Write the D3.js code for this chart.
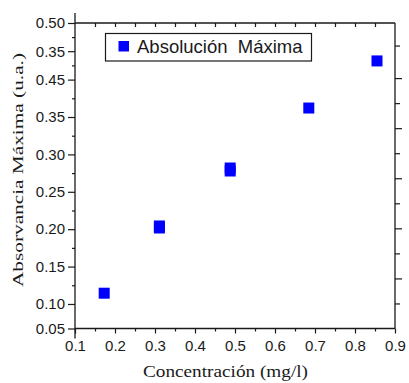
<!DOCTYPE html>
<html>
<head>
<meta charset="utf-8">
<script src="https://cdn.jsdelivr.net/npm/d3@7/dist/d3.min.js"></script>
<style>
  html, body { margin: 0; padding: 0; background: #fff; }
  svg { display: block; }
</style>
</head>
<body>
<script>
// ---- data ----
const concentration = [0.173, 0.311, 0.311, 0.488, 0.488, 0.6845, 0.855];
const absorbance    = [0.1144, 0.2043, 0.2016, 0.2818, 0.2778, 0.362, 0.425];
const seriesName = "Absolución  Máxima";

const xMajorTicks = [0.1, 0.2, 0.3, 0.4, 0.5, 0.6, 0.7, 0.8, 0.9];
const xMinorTicks = [0.15, 0.25, 0.35, 0.45, 0.55, 0.65, 0.75, 0.85];
const xTopTicks   = [0.15, 0.2, 0.25, 0.3, 0.35, 0.4, 0.45, 0.5, 0.55, 0.6, 0.65, 0.7, 0.75, 0.8, 0.85];

const yDomain = [0.0672, 0.4757];
const yTickValues = [0.0672, 0.10, 0.15, 0.20, 0.25, 0.30, 0.35, 0.40, 0.438, 0.4757];
const yTickLabels = ["0.05", "0.10", "0.15", "0.20", "0.25", "0.30", "0.35", "0.45", "0.35", "0.50"];

const rightDomain = [0, 6.1];
const rightMajor = [1, 2, 3, 4, 5];
const rightMinor = [0.5, 1.5, 2.5, 3.5, 4.5, 5.65];

const xTitle = "Concentración (mg/l)";
const yTitle = "Absorvancia Máxima (u.a.)";

// ---- layout ----
const W = 409, H = 383;
const m = { left: 75, right: 14, top: 23, bottom: 54.5 };
const x0 = m.left, x1 = W - m.right, y0 = H - m.bottom, y1 = m.top;

const svg = d3.select("body").append("svg").attr("width", W).attr("height", H);

const x = d3.scaleLinear().domain([0.1, 0.9]).range([x0, x1]);
const y = d3.scaleLinear().domain(yDomain).range([y0, y1]);
const yr = d3.scaleLinear().domain(rightDomain).range([y0, y1]);

const ink = "#1a1a1a";
const sans = "'Liberation Sans', Arial, sans-serif";
const serif = "'Liberation Serif', 'Times New Roman', serif";

function styleAxis(g) {
  g.select(".domain").remove();
  g.selectAll(".tick line").attr("stroke", ink).attr("stroke-width", 1.2);
  g.selectAll(".tick text").attr("fill", ink).attr("font-family", sans).attr("font-size", 15);
}

// frame lines
const frame = svg.append("g").attr("stroke", ink).attr("stroke-width", 1.3).attr("fill", "none");
frame.append("line").attr("x1", x0).attr("x2", x0).attr("y1", y1 - 10).attr("y2", y0 + 10); // left
frame.append("line").attr("x1", x0).attr("x2", x1).attr("y1", y0).attr("y2", y0); // bottom
frame.append("line").attr("x1", x0).attr("x2", x1).attr("y1", y1).attr("y2", y1); // top
frame.append("line").attr("x1", x1).attr("x2", x1).attr("y1", y1).attr("y2", y0); // right

// bottom axis
svg.append("g").attr("transform", `translate(0,${y0})`)
  .call(d3.axisBottom(x).tickValues(xMajorTicks).tickSize(5).tickPadding(7).tickFormat(d3.format(".1f")))
  .call(styleAxis);
svg.append("g").attr("transform", `translate(0,${y0})`)
  .call(d3.axisBottom(x).tickValues(xMinorTicks).tickSize(3).tickFormat(""))
  .call(styleAxis);

// top axis (inward ticks)
svg.append("g").attr("transform", `translate(0,${y1})`)
  .call(d3.axisBottom(x).tickValues(xTopTicks).tickSize(4).tickFormat(""))
  .call(styleAxis);

// left axis
svg.append("g").attr("transform", `translate(${x0},0)`)
  .call(d3.axisLeft(y).tickValues(yTickValues).tickSize(7).tickPadding(3)
    .tickFormat((d, i) => yTickLabels[i]))
  .call(styleAxis);
const yMinor = d3.pairs(yTickValues).slice(1).map(([a, b]) => (a + b) / 2);
svg.append("g").attr("transform", `translate(${x0},0)`)
  .call(d3.axisLeft(y).tickValues(yMinor).tickSize(3).tickFormat(""))
  .call(styleAxis);

// right axis (outward ticks, no labels)
svg.append("g").attr("transform", `translate(${x1},0)`)
  .call(d3.axisRight(yr).tickValues(rightMajor).tickSize(7).tickFormat(""))
  .call(styleAxis);
svg.append("g").attr("transform", `translate(${x1},0)`)
  .call(d3.axisRight(yr).tickValues(rightMinor).tickSize(5).tickFormat(""))
  .call(styleAxis);

// points
const pts = concentration.map((c, i) => ({ c, a: absorbance[i] }));
const s = 11;
svg.append("g").selectAll("rect").data(pts).join("rect")
  .attr("x", d => x(d.c) - s / 2)
  .attr("y", d => y(d.a) - s / 2)
  .attr("width", s).attr("height", s)
  .attr("fill", "#0000ff");

// legend
const lg = svg.append("g");
lg.append("rect").attr("x", 105.5).attr("y", 33.5).attr("width", 206).attr("height", 27.5)
  .attr("fill", "#fff").attr("stroke", ink).attr("stroke-width", 1.2);
lg.append("rect").attr("x", 118.5).attr("y", 41).attr("width", 10.5).attr("height", 10.5).attr("fill", "#0000ff");
lg.append("text").attr("x", 137).attr("y", 53).attr("font-family", sans).attr("font-size", 18.5)
  .attr("fill", ink).attr("xml:space", "preserve").style("white-space", "pre").text(seriesName);

// axis titles
svg.append("text").attr("x", 225.5).attr("y", 377).attr("text-anchor", "middle")
  .attr("font-family", serif).attr("font-size", 16.5).attr("fill", ink)
  .attr("textLength", 165).attr("lengthAdjust", "spacingAndGlyphs").text(xTitle);
svg.append("text").attr("transform", "translate(23.3,170) rotate(-90)").attr("text-anchor", "middle")
  .attr("font-family", serif).attr("font-size", 15.5).attr("fill", ink)
  .attr("textLength", 234).attr("lengthAdjust", "spacingAndGlyphs").text(yTitle);
</script>
</body>
</html>
